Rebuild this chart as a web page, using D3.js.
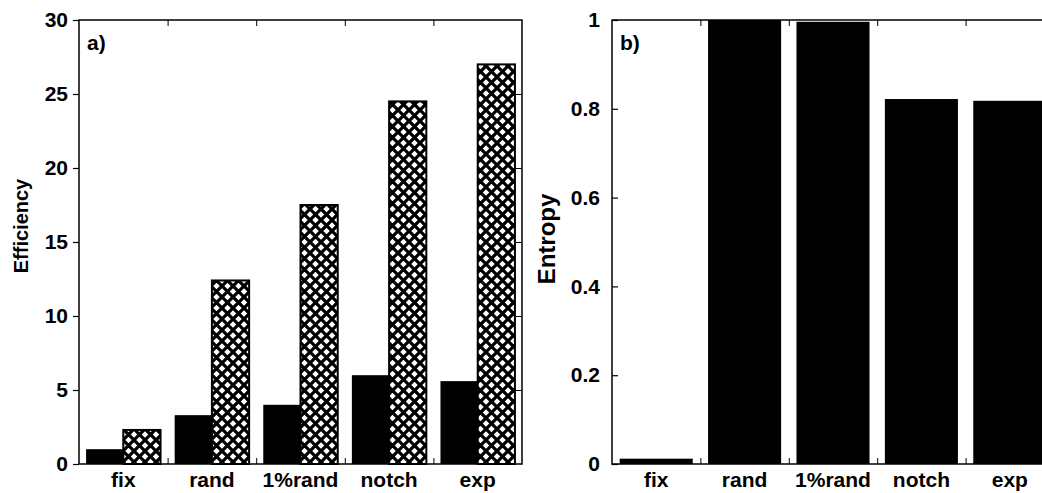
<!DOCTYPE html>
<meta charset="utf-8">
<html>
    <head>
        <style>
            body { margin: 0; background: #fff; }
            text { font-family: "Liberation Sans", Arial, sans-serif; font-weight: bold; fill: #000; }
        </style>
        <script src="https://d3js.org/d3.v7.min.js"></script>
    </head>
    <body>
        <script>

            // Data
            var categories = ["fix", "rand", "1%rand", "notch", "exp"];
            var efficiencySolid = [1.0, 3.3, 4.0, 6.0, 5.6];
            var efficiencyHatched = [2.3, 12.4, 17.5, 24.5, 27.0];
            var entropy = [0.012, 1.0, 0.996, 0.822, 0.818];
            var effTicks = [0, 5, 10, 15, 20, 25, 30];
            var entTicks = [0, 0.2, 0.4, 0.6, 0.8, 1];

            var width = 1042, height = 493;

            var svg = d3.select("body")
                .append("svg")
                .attr("width", width)
                .attr("height", height);

            // crosshatch pattern for the second series
            var pat = svg.append("defs").append("pattern")
                .attr("id", "hatch")
                .attr("patternUnits", "userSpaceOnUse")
                .attr("width", 11)
                .attr("height", 11);
            pat.append("rect").attr("width", 11).attr("height", 11).attr("fill", "#fff");
            pat.append("path")
                .attr("d", "M-2,-2L13,13M-2,13L13,-2")
                .attr("stroke", "#000")
                .attr("stroke-width", 3.2);

            // note: "top" is taken by window.top, so use plotTop
            var plotTop = 20, plotBottom = 464;

            // draws one framed panel and returns the scales
            function panel(left, right, domain, ticks, fmt, outward, label, title, titleX, titleY, titleSize) {
                var W = right - left;
                var g = svg.append("g").attr("transform", "translate(" + left + ",0)");

                var x = d3.scaleBand().domain(categories).range([0, W]).padding(0);
                var xb = d3.scaleLinear().domain([0, categories.length]).range([0, W]);
                var y = d3.scaleLinear().domain(domain).range([plotBottom, plotTop]);

                // y axis with labels
                var ya = g.append("g")
                    .call(d3.axisLeft(y).tickValues(ticks).tickFormat(fmt)
                        .tickSizeInner(outward ? 6 : -6).tickSizeOuter(0).tickPadding(outward ? 5 : 12));
                ya.select(".domain").remove();
                ya.selectAll("line").attr("stroke-width", 1.2);
                ya.selectAll("text").style("font-size", "21px").attr("font-family", null);

                // right side ticks
                var yr = g.append("g").attr("transform", "translate(" + W + ",0)")
                    .call(d3.axisRight(y).tickValues(ticks.slice(1, -1)).tickSizeInner(-6).tickSizeOuter(0).tickFormat(""));
                yr.select(".domain").remove();

                // boundary ticks top and bottom
                var xt = g.append("g").attr("transform", "translate(0," + plotTop + ")")
                    .call(d3.axisTop(xb).tickValues([1, 2, 3, 4]).tickSizeInner(-6).tickSizeOuter(0).tickFormat(""));
                xt.select(".domain").remove();
                var xbt = g.append("g").attr("transform", "translate(0," + plotBottom + ")")
                    .call(d3.axisBottom(xb).tickValues([1, 2, 3, 4]).tickSizeInner(-6).tickSizeOuter(0).tickFormat(""));
                xbt.select(".domain").remove();

                // category labels
                var xl = g.append("g").attr("transform", "translate(0," + plotBottom + ")")
                    .call(d3.axisBottom(x).tickSize(0).tickPadding(8));
                xl.select(".domain").remove();
                xl.selectAll("text").style("font-size", "21px").attr("font-family", null);

                // panel letter
                g.append("text")
                    .attr("x", 8)
                    .attr("y", 50)
                    .style("font-size", "21px")
                    .text(label);

                // axis title
                svg.append("text")
                    .attr("transform", "translate(" + titleX + "," + titleY + ") rotate(-90)")
                    .attr("text-anchor", "middle")
                    .style("font-size", titleSize + "px")
                    .text(title);

                return {g: g, x: x, y: y, W: W};
            }

            // Panel a) efficiency
            var a = panel(79, 522, [0, 30], effTicks, d3.format("d"), true, "a)", "Efficiency", 28, 226, 20);
            var inner = d3.scaleBand().domain(["solid", "hatched"]).range([0, a.x.bandwidth()]).paddingOuter(0.19);

            a.g.append("g").selectAll("rect")
                .data(categories)
                .enter().append("rect")
                .attr("x", function(d) { return a.x(d) + inner("solid"); })
                .attr("width", inner.bandwidth())
                .attr("y", function(d, i) { return a.y(efficiencySolid[i]); })
                .attr("height", function(d, i) { return plotBottom - a.y(efficiencySolid[i]); })
                .attr("fill", "#000");

            a.g.append("g").selectAll("rect")
                .data(categories)
                .enter().append("rect")
                .attr("x", function(d) { return a.x(d) + inner("hatched"); })
                .attr("width", inner.bandwidth())
                .attr("y", function(d, i) { return a.y(efficiencyHatched[i]); })
                .attr("height", function(d, i) { return plotBottom - a.y(efficiencyHatched[i]); })
                .attr("fill", "url(#hatch)")
                .attr("stroke", "#000")
                .attr("stroke-width", 2);

            // Panel b) entropy (runs past the right edge like the original)
            var b = panel(612, 1054, [0, 1], entTicks, function(d) { return d === 0 || d === 1 ? d3.format("d")(d) : d3.format(".1f")(d); }, false, "b)", "Entropy", 555, 239, 24);
            var innerB = d3.scaleBand().domain(["entropy"]).range([0, b.x.bandwidth()]).paddingOuter(0.105);

            b.g.append("g").selectAll("rect")
                .data(categories)
                .enter().append("rect")
                .attr("x", function(d) { return b.x(d) + innerB("entropy"); })
                .attr("width", innerB.bandwidth())
                .attr("y", function(d, i) { return b.y(entropy[i]); })
                .attr("height", function(d, i) { return plotBottom - b.y(entropy[i]); })
                .attr("fill", "#000");

            // frames drawn last
            [a, b].forEach(function(p) {
                p.g.append("rect")
                    .attr("x", 0).attr("y", plotTop)
                    .attr("width", p.W).attr("height", plotBottom - plotTop)
                    .attr("fill", "none")
                    .attr("stroke", "#000")
                    .attr("stroke-width", 1.5);
            });

        </script>
    </body>
</html>
